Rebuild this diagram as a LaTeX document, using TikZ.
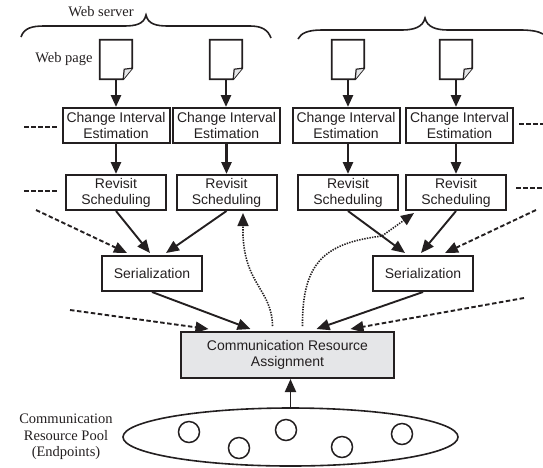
\documentclass[tikz,border=0pt]{standalone}
\usepackage{fontspec}
\setmainfont{Liberation Sans}
\newfontfamily\serifface{Liberation Serif}
\usetikzlibrary{arrows.meta, shapes.geometric}
\definecolor{lightgraybox}{HTML}{E5E6E8}
\definecolor{inkblack}{HTML}{231F20}

\tikzstyle{blockbox} = [rectangle, draw = inkblack, line width = 2pt, inner sep = 0pt, align = center, font = \fontsize{14}{16}\selectfont, text = inkblack]
\tikzstyle{estimatebox} = [blockbox, minimum width = 107pt, minimum height = 35pt]
\tikzstyle{revisitbox} = [blockbox, minimum width = 100pt, minimum height = 35pt]
\tikzstyle{serialbox} = [blockbox, minimum width = 100pt, minimum height = 35pt]
\tikzstyle{assignbox} = [blockbox, fill = lightgraybox, minimum width = 213pt, minimum height = 46pt]
\tikzstyle{webpage} = [rectangle, minimum width = 32pt, minimum height = 39pt, inner sep = 0pt]
\tikzstyle{pageline} = [draw = inkblack, line width = 1.8pt, line join = miter]
\tikzstyle{endpoint} = [circle, draw = inkblack, line width = 1.5pt, minimum size = 21pt, inner sep = 0pt]
\tikzstyle{poolshape} = [ellipse, draw = inkblack, line width = 1.6pt, minimum width = 335pt, minimum height = 58pt, inner sep = 0pt]
\tikzstyle{caption} = [align = center, font = \serifface\fontsize{14.5}{16.5}\selectfont, text = inkblack, inner sep = 0pt]
\tikzstyle{thickflow} = [-{Triangle[length = 12pt, width = 10pt]}, color = inkblack, line width = 2.6pt]
\tikzstyle{flow} = [-{Triangle[length = 13pt, width = 11pt]}, color = inkblack, line width = 1.9pt]
\tikzstyle{dashflow} = [flow, dash pattern = on 4.5pt off 2.5pt]
\tikzstyle{dotflow} = [-{Triangle[length = 13pt, width = 11pt]}, color = inkblack, line width = 1.6pt, dash pattern = on 1.4pt off 1.2pt]
\tikzstyle{stub} = [draw = inkblack, line width = 2.8pt, dash pattern = on 5pt off 2pt]
\tikzstyle{bracket} = [draw = inkblack, line width = 1.6pt]

\begin{document}
\begin{tikzpicture}[x = 1pt, y = -1pt, node distance = 66pt]
	\useasboundingbox (0,0) rectangle (543,467);
	% pages
	\node[webpage] (pageA) at (116,59.5) {};
	\node[webpage] (pageB) at (226,59.5) {};
	\node[webpage] (pageC) at (348,59.5) {};
	\node[webpage] (pageD) at (456,59.5) {};
	\foreach \p in {pageA, pageB, pageC, pageD} {
		\draw[pageline] (\p.north west) -- (\p.north east) -- ([yshift = 11pt]\p.south east) -- ([xshift = -9pt]\p.south east) -- (\p.south west) -- cycle;
		\draw[pageline, fill = lightgraybox, line width = 1.2pt] ([yshift = 11pt]\p.south east) -- ([xshift = -8pt, yshift = 10pt]\p.south east) -- ([xshift = -9pt]\p.south east);
	}
	% estimation and scheduling
	\node[estimatebox, below of = pageA] (estA) {Change Interval\\Estimation};
	\node[estimatebox, below of = pageB, xshift = 0.5pt] (estB) {Change Interval\\Estimation};
	\node[estimatebox, below of = pageC, xshift = -2pt] (estC) {Change Interval\\Estimation};
	\node[estimatebox, below of = pageD, xshift = 3.5pt] (estD) {Change Interval\\Estimation};
	\node[revisitbox, below of = pageA, yshift = -67pt] (revA) {Revisit\\Scheduling};
	\node[revisitbox, below of = pageB, yshift = -67pt, xshift = 0.5pt] (revB) {Revisit\\Scheduling};
	\node[revisitbox, below of = pageC, yshift = -67pt] (revC) {Revisit\\Scheduling};
	\node[revisitbox, below of = pageD, yshift = -67pt] (revD) {Revisit\\Scheduling};
	\node[serialbox] (serA) at (152,273.5) {Serialization};
	\node[serialbox] (serB) at (423,273.5) {Serialization};
	\node[assignbox] (assign) at (287.5,355) {Communication Resource\\Assignment};
	% pool
	\node[poolshape] (pool) at (290.5,437) {};
	\node[endpoint] (endA) at (189,432) {};
	\node[endpoint] (endB) at (239,448) {};
	\node[endpoint] (endC) at (286,430) {};
	\node[endpoint] (endD) at (342,447) {};
	\node[endpoint] (endE) at (402,434) {};
	% labels
	\node[caption] (serverlabel) at (101,12) {Web server};
	\node[caption] (pagelabel) at (64,59) {Web page};
	\node[caption] (poollabel) at (66,437) {Communication\\Resource Pool\\(Endpoints)};
	% free ends
	\coordinate (stubA) at (24,127);
	\coordinate (stubB) at (24,191);
	\coordinate (stubC) at (543,124);
	\coordinate (stubD) at (543,188);
	\coordinate (feedA) at (36,210);
	\coordinate (feedB) at (536,210);
	\coordinate (feedC) at (70,310);
	\coordinate (feedD) at (524,298);
	% top down flow
	\path[thickflow]
	(pageA.south) edge (estA.north)
	(pageB.south) edge (pageB.south |- estB.north)
	(pageC.south) edge (pageC.south |- estC.north)
	(pageD.south) edge (pageD.south |- estD.north)
	(estA.south) edge (revA.north)
	(estB.south) edge (revB.north)
	(pageC.south |- estC.south) edge (revC.north)
	(pageD.south |- estD.south) edge (revD.north);
	\path[flow]
	(revA.south) edge ([xshift = -2pt, yshift = 2pt]serA.north)
	(revB.south) edge ([xshift = 14pt, yshift = 2pt]serA.north)
	(revC.south) edge ([xshift = -18pt, yshift = 2pt]serB.north)
	(revD.south) edge ([xshift = -2pt, yshift = 2pt]serB.north)
	(serA.south) edge ([xshift = -37pt, yshift = 2pt]assign.north)
	(serB.south) edge ([xshift = 29pt, yshift = 2pt]assign.north)
	(pool.north) edge (assign.south -| pool.north);
	% links to other servers
	\path[dashflow]
	(feedA) edge ([xshift = -25pt, yshift = 2pt]serA.north)
	(feedB) edge ([xshift = 22pt, yshift = 2pt]serB.north)
	(feedC) edge ([xshift = -79pt, yshift = 2pt]assign.north)
	(feedD) edge ([xshift = 63pt, yshift = 2pt]assign.north);
	\draw[stub] (stubA) -- ([xshift = -3pt]stubA -| estA.west);
	\draw[stub] (stubB) -- ([xshift = -7pt]stubB -| revA.west);
	\draw[stub] ([xshift = 5pt]stubC -| estD.east) -- (stubC);
	\draw[stub] ([xshift = 9pt]stubD -| revD.east) -- (stubD);
	% feedback
	\draw[dotflow] ([xshift = -15pt, yshift = 5pt]assign.north) .. controls (272,290) and (245,285) .. (243,235) -- ([xshift = 16.5pt, yshift = -2pt]revB.south);
	\draw[dotflow] ([xshift = 15pt, yshift = 5pt]assign.north) .. controls (302,262) and (325,243) .. (382,236) -- ([xshift = 9pt, yshift = -2pt]revD.south west);
	% brackets
	\draw[bracket] (21,37) .. controls (24,28) and (32,26) .. (44,26) -- (124,26) .. controls (136,26) and (144,24) .. (146,15) .. controls (148,24) and (156,26) .. (168,26) -- (250,26) .. controls (262,26) and (268,30) .. (271,38);
	\draw[bracket] (298,39) .. controls (301,33) and (308,30) .. (322,30) -- (402,30) .. controls (414,30) and (423,27) .. (425,18) .. controls (427,27) and (436,30) .. (448,30) -- (520,30) .. controls (530,30) and (538,31) .. (543,34);
\end{tikzpicture}
\end{document}
